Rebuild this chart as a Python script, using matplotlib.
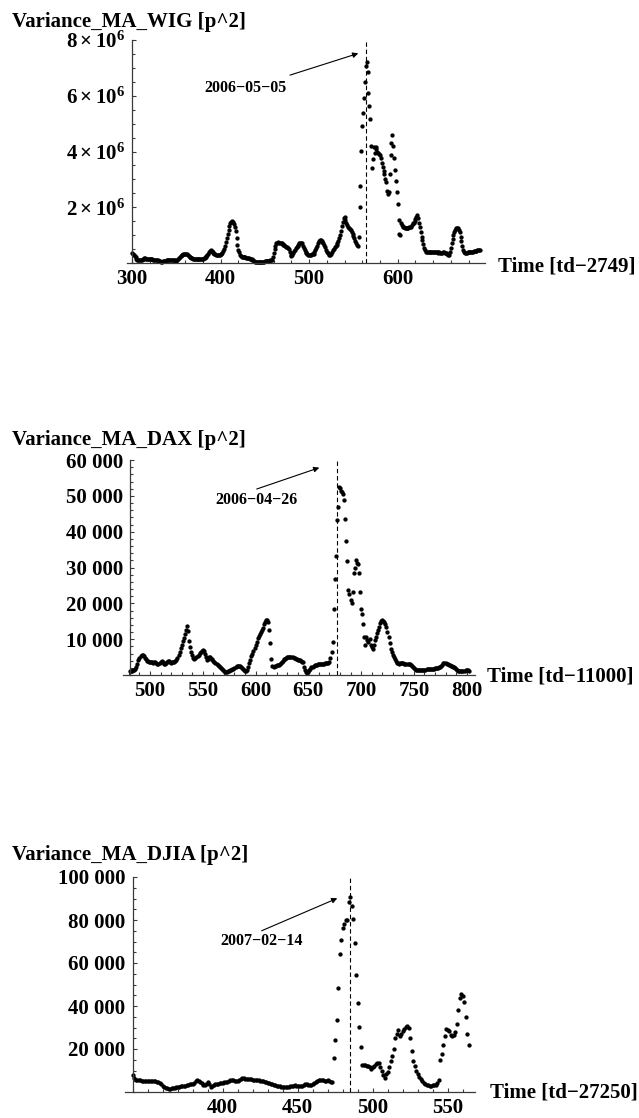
import numpy as np
import matplotlib
matplotlib.use("Agg")
from matplotlib import pyplot as plt
from matplotlib.ticker import MultipleLocator, FixedLocator, FixedFormatter

matplotlib.rcParams['font.family'] = 'Liberation Serif'
matplotlib.rcParams['font.weight'] = 'bold'
matplotlib.rcParams['font.size'] = 15
matplotlib.rcParams['mathtext.fontset'] = 'custom'
matplotlib.rcParams['mathtext.rm'] = 'Liberation Serif:bold'
matplotlib.rcParams['mathtext.it'] = 'Liberation Serif:bold'
matplotlib.rcParams['mathtext.bf'] = 'Liberation Serif:bold'

# WIG moving-average variance, one value per trading day from td=300, in 1e6 p^2
wig_start = 300
wig_var = [
    .35, .32, .28, .24, .20, .16, .12, .10, .09, .10,
    .11, .12, .14, .16, .17, .17, .16, .15, .15, .14,
    .14, .14, .13, .13, .12, .12, .11, .11, .10, .09,
    .08, .07, .06, .05, .05, .06, .07, .08, .08, .09,
    .09, .10, .10, .11, .11, .11, .10, .10, .09, .08,
    .08, .10, .13, .17, .21, .24, .27, .29, .31, .32,
    .32, .32, .31, .29, .26, .23, .21, .19, .17, .16,
    .15, .15, .15, .14, .14, .15, .15, .15, .15, .15,
    .16, .17, .19, .22, .25, .29, .33, .38, .42, .45,
    .44, .40, .36, .34, .32, .30, .29, .28, .28, .29,
    .31, .33, .36, .42, .50, .60, .75, .90, 1.05, 1.20,
    1.32, 1.42, 1.48, 1.50, 1.47, 1.40, 1.28, 1.15, .90, .65,
    .47, .38, .30, .26, .23, .21, .20, .20, .20, .19,
    .18, .18, .17, .16, .15, .13, .11, .09, .07, .05,
    .05, .05, .05, .05, .05, .05, .05, .05, .05, .05,
    .06, .06, .06, .07, .07, .08, .09, .10, .12, .20,
    .35, .50, .62, .70, .73, .74, .73, .72, .71, .70,
    .68, .66, .63, .61, .59, .57, .55, .50, .40, .28,
    .24, .28, .36, .42, .48, .53, .57, .62, .66, .70,
    .72, .73, .70, .62, .55, .47, .41, .36, .32, .29,
    .29, .30, .30, .31, .32, .33, .38, .46, .55, .62,
    .70, .78, .82, .83, .80, .77, .73, .66, .56, .47,
    .41, .36, .32, .30, .30, .34, .40, .47, .52, .58,
    .62, .66, .72, .80, .90, 1.00, 1.15, 1.32, 1.48, 1.60,
    1.66, 1.55, 1.42, 1.35, 1.30, 1.26, 1.22, 1.18, 1.12, 1.05,
    .98, .90, .80, .72, .65, .60, .95, 2.02, 2.76, 4.01,
    4.92, 5.38, 5.92, 6.50, 7.06, 7.20, 6.85, 6.10, 5.65, 5.18,
    4.20, 3.42, 3.72, 4.15, 3.95, 4.17, 4.10, 4.00, 3.93, 3.90,
    3.87, 3.75, 3.60, 3.45, 3.30, 3.20, 3.00, 2.90, 2.60, 2.47,
    2.55, 3.20, 3.89, 4.30, 4.60, 4.20, 3.75, 3.35, 2.95, 2.55,
    2.10, 1.55, 1.05, 1.00, 1.42, 1.35, 1.30, 1.28, 1.25, 1.25,
    1.27, 1.26, 1.25, 1.28, 1.30, 1.30, 1.35, 1.42, 1.45, 1.50,
    1.58, 1.65, 1.72, 1.62, 1.45, 1.30, 1.10, .95, .82, .68,
    .55, .45, .40, .39, .38, .38, .39, .39, .38, .38,
    .38, .39, .39, .38, .38, .37, .38, .38, .37, .36,
    .37, .38, .38, .37, .36, .35, .33, .30, .28, .40,
    .55, .70, .85, 1.00, 1.12, 1.20, 1.25, 1.27, 1.24, 1.18,
    1.10, .95, .80, .62, .48, .38, .35, .36, .37, .38,
    .38, .39, .39, .40, .40, .41, .42, .42, .43, .44,
    .45, .46, .46, .47,
]

# DAX moving-average variance from td=481, in thousands of p^2
dax_start = 481
dax_var = [
    1.0, 1.1, 1.2, 1.3, 1.4, 1.6, 2.2, 3.2, 4.2,
    4.8, 5.2, 5.5, 5.6, 5.2, 4.8, 4.4, 4.0, 3.8, 3.7,
    3.6, 3.5, 3.5, 3.4, 3.5, 3.6, 3.4, 3.2, 3.1, 3.3,
    3.6, 3.8, 3.5, 3.2, 3.0, 3.3, 3.7, 3.9, 3.8, 3.5,
    3.4, 3.5, 3.6, 3.7, 3.8, 4.2, 4.7, 5.6, 6.5, 7.5,
    8.4, 9.4, 10.3, 11.5, 12.6, 13.6, 12.2, 9.5, 7.8, 6.5,
    5.6, 4.8, 4.4, 4.7, 5.0, 5.4, 5.7, 6.1, 6.5, 6.8,
    7.1, 6.6, 5.8, 5.0, 4.2, 4.6, 5.1, 4.9, 4.6, 4.4,
    4.0, 3.7, 3.4, 3.1, 2.8, 2.5, 2.2, 1.9, 1.6, 1.4,
    1.1, 0.8, 0.7, 0.9, 1.1, 1.2, 1.3, 1.5, 1.6, 1.8,
    2.0, 2.2, 2.4, 2.5, 2.6, 2.5, 2.3, 2.0, 1.7, 1.3,
    1.0, 1.1, 1.4, 2.3, 3.4, 4.2, 5.2, 6.0, 6.8, 7.4,
    8.3, 9.3, 10.3, 10.9, 11.5, 12.1, 12.6, 13.2, 14.2, 14.9,
    15.4, 15.4, 14.8, 12.5, 8.9, 4.4, 2.5, 2.2, 2.4, 2.6,
    2.7, 2.7, 2.8, 3.0, 3.3, 3.5, 4.0, 4.4, 4.6, 4.8,
    4.9, 4.9, 4.9, 5.0, 4.9, 4.9, 4.8, 4.7, 4.6, 4.5,
    4.3, 4.2, 4.1, 3.9, 3.7, 3.5, 2.2, 1.4, 0.8, 0.5,
    0.9, 1.4, 1.8, 2.1, 2.3, 2.5, 2.7, 2.8, 2.9, 3.0,
    3.0, 3.0, 3.1, 3.1, 3.2, 3.2, 3.3, 3.3, 3.3, 3.4,
    3.5, 4.7, 6.5, 9.3, 18.5, 26.8, 33.2, 43.3, 47.0, 52.5,
    52.2, 51.4, 51.0, 50.6, 48.9, 43.5, 37.4, 31.9, 23.8, 22.5,
    21.0, 20.2, 23.2, 28.5, 29.8, 32.2, 31.3, 31.0, 28.6, 23.2,
    18.5, 17.0, 14.2, 10.7, 8.5, 10.5, 9.8, 9.3, 10.0, 8.5,
    7.7, 7.3, 8.5, 9.8, 10.7, 11.6, 12.5, 13.5, 14.4, 15.0,
    15.3, 15.2, 14.9, 14.3, 13.5, 12.1, 10.5, 8.8, 7.2, 6.3,
    5.6, 5.0, 4.6, 3.8, 3.4, 3.3, 3.0, 3.3, 3.3, 3.4,
    3.3, 3.2, 3.1, 3.0, 3.0, 3.0, 3.0, 2.9, 2.6, 2.3,
    2.0, 1.7, 1.5, 1.4, 1.4, 1.4, 1.4, 1.4, 1.5, 1.5,
    1.5, 1.5, 1.6, 1.6, 1.6, 1.7, 1.7, 1.8, 1.8, 1.8,
    1.9, 1.9, 2.0, 2.0, 2.1, 2.2, 2.4, 2.9, 3.3, 3.4,
    3.3, 3.2, 3.0, 2.9, 2.8, 2.6, 2.4, 2.3, 2.1, 1.9,
    1.6, 1.3, 1.1, 1.0, 1.0, 1.0, 1.0, 1.1, 1.2, 1.4,
    1.4, 1.3, 1.2,
]

# DJIA moving-average variance from td=340, in thousands of p^2
djia_start = 340
djia_var = [
    7.8, 6.5, 5.8, 5.5, 5.4, 5.4, 5.3, 5.3, 5.3, 5.2,
    5.2, 5.1, 5.1, 5.0, 5.0, 4.9, 4.7, 4.5, 4.2, 3.5,
    2.8, 2.3, 2.0, 1.8, 1.6, 1.6, 1.7, 1.8, 1.9, 2.1,
    2.3, 2.4, 2.6, 2.8, 2.9, 3.0, 3.1, 3.3, 3.5, 3.7,
    3.9, 4.4, 5.0, 5.4, 5.2, 4.7, 4.0, 3.4, 3.1, 3.8,
    4.7, 3.6, 2.3, 2.8, 3.4, 3.6, 3.8, 3.9, 4.0, 4.2,
    4.4, 4.5, 4.6, 4.7, 5.0, 5.4, 5.8, 5.6, 5.2, 5.0,
    5.2, 5.7, 6.2, 6.3, 6.3, 6.2, 6.2, 6.1, 6.0, 5.9,
    5.8, 5.7, 5.6, 5.5, 5.4, 5.3, 5.1, 4.9, 4.7, 4.5,
    4.3, 4.1, 3.9, 3.7, 3.4, 3.1, 2.9, 2.7, 2.6, 2.5,
    2.4, 2.3, 2.3, 2.3, 2.4, 2.6, 2.8, 3.0, 3.1, 3.0,
    2.8, 2.6, 2.6, 2.8, 3.4, 3.9, 3.6, 3.3, 3.1, 3.2,
    3.6, 4.2, 4.8, 5.3, 5.7, 5.8, 5.7, 5.5, 5.2, 4.9,
    5.4, 5.0, 4.8, 4.6, 15.6, 24.1, 33.7, 48.2, 64.2, 70.5,
    76.2, 78.2, 79.8, 80.1, 88.6, 90.5, 86.3, 80.4, 69.5, 54.4,
    41.2, 30.3, 21.0, 12.4, 12.5, 12.4, 12.3, 12.0, 11.4, 10.9,
    11.6, 12.3, 12.9, 13.5, 13.3, 11.5, 9.8, 7.8, 6.3, 8.6,
    9.3, 11.5, 14.4, 16.9, 20.0, 25.3, 27.2, 28.8, 26.2, 27.2,
    28.3, 29.5, 30.3, 30.7, 29.9, 25.0, 19.1, 14.4, 11.9, 9.8,
    8.6, 7.2, 6.0, 5.2, 4.4, 3.8, 3.4, 3.1, 3.0, 3.0,
    3.1, 3.4, 3.4, 4.0, 5.4, 14.8, 17.9, 21.8, 26.2, 29.3,
    28.8, 28.2, 26.4, 26.2, 26.5, 28.0, 31.8, 38.1, 43.6, 45.4,
    44.5, 41.7, 34.9, 26.8, 21.9,
]

W, H = 639, 1118
fig = plt.figure(figsize=(W / 100., H / 100.), dpi=100)


def axes_px(l, r, t, b):
    return fig.add_axes([l / W, 1 - b / H, (r - l) / W, (b - t) / H])


def text_px(x, y, s, **kw):
    fig.text(x / W, 1 - y / H, s, **kw)


def style(ax, x0, xlim, ylim, xmaj, xminor, ymaj, ylabels, yminor):
    ax.set_xlim(xlim)
    ax.set_ylim(ylim)
    for s in ['top', 'right']:
        ax.spines[s].set_visible(False)
    ax.spines['left'].set_position(('data', x0))
    for s in ['left', 'bottom']:
        ax.spines[s].set_color('#3a3a3a')
        ax.spines[s].set_linewidth(0.9)
    ax.xaxis.set_major_locator(FixedLocator(xmaj))
    ax.xaxis.set_minor_locator(MultipleLocator(xminor))
    ax.yaxis.set_major_locator(FixedLocator(ymaj))
    ax.yaxis.set_major_formatter(FixedFormatter(ylabels))
    ax.yaxis.set_minor_locator(MultipleLocator(yminor))
    ax.tick_params(which='both', direction='in', color='#3a3a3a', width=0.8)
    ax.tick_params(which='major', length=3.2)
    ax.tick_params(which='minor', length=2)
    ax.tick_params(axis='x', which='major', pad=4.5, labelsize=15)
    ax.tick_params(axis='y', which='major', pad=5, labelsize=15)
    ax.patch.set_visible(False)


def dots(ax, start, vals, scale):
    x = np.arange(start, start + len(vals))
    ax.plot(x, np.array(vals) * scale, 'o', ms=3.1, mew=0, color='k', clip_on=False)


def mark(ax, xd, text, txy, tail, tip):
    ax.axvline(xd, color='k', lw=0.8, dashes=(4, 2.5))
    ax.text(txy[0], txy[1], text, ha='center', va='center', fontsize=11.5)
    ax.annotate('', xy=tip, xytext=tail,
                arrowprops=dict(arrowstyle='-|>', lw=0.8, color='k',
                                mutation_scale=8, shrinkA=0, shrinkB=0))


# WIG
ax1 = axes_px(127, 485, 40, 263)
style(ax1, 300, (294.35, 698.6), (0, 8e6), [300, 400, 500, 600], 20,
      [2e6, 4e6, 6e6, 8e6],
      [r'$2\times10^{6}$', r'$4\times10^{6}$', r'$6\times10^{6}$', r'$8\times10^{6}$'], 5e5)
dots(ax1, wig_start, wig_var, 1e6)
mark(ax1, 564, '2006\u221205\u221205', (428, 6.27e6), (478.4, 6.74e6), (555.5, 7.52e6))
text_px(12, 27, 'Variance_MA_WIG [p^2]', va='baseline', ha='left', fontsize=15)
text_px(498, 266, 'Time [td\u22122749]', va='center', ha='left', fontsize=15)

# DAX
ax2 = axes_px(123.3, 475, 460, 675)
style(ax2, 481, (474.7, 807.9), (0, 60000), [500, 550, 600, 650, 700, 750, 800], 10,
      [10000, 20000, 30000, 40000, 50000, 60000],
      ['10 000', '20 000', '30 000', '40 000', '50 000', '60 000'], 2000)
dots(ax2, dax_start, dax_var, 1000)
mark(ax2, 677, '2006\u221204\u221226', (600.7, 48800), (601.1, 51900), (660.4, 57860))
text_px(12, 445, 'Variance_MA_DAX [p^2]', va='baseline', ha='left', fontsize=15)
text_px(487, 676, 'Time [td\u221211000]', va='center', ha='left', fontsize=15)

# DJIA
ax3 = axes_px(125, 474.7, 877, 1092)
style(ax3, 340, (335, 568.1), (0, 100000), [400, 450, 500, 550], 10,
      [20000, 40000, 60000, 80000, 100000],
      ['20 000', '40 000', '60 000', '80 000', '100 000'], 5000)
dots(ax3, djia_start, djia_var, 1000)
mark(ax3, 485, '2007\u221202\u221214', (425.8, 70400), (426.1, 75000), (476.5, 90100))
text_px(12, 860, 'Variance_MA_DJIA [p^2]', va='baseline', ha='left', fontsize=15)
text_px(490, 1093, 'Time [td\u221227250]', va='center', ha='left', fontsize=15)

fig.savefig('out.png', dpi=100)
